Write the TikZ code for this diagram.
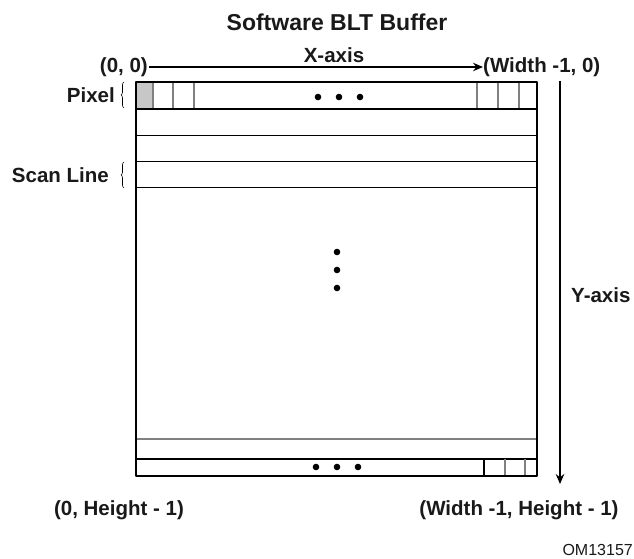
\documentclass[tikz,border=0pt]{standalone}
\usepackage{fontspec}
\setmainfont{Liberation Sans}
\usetikzlibrary{arrows.meta,decorations.pathreplacing}
\begin{document}
\begin{tikzpicture}[x=1pt,y=-1pt,line join=round,>={Stealth[length=10pt,width=8.5pt]},
	lbl/.style={font=\fontsize{20.5}{24}\selectfont\bfseries,text=black!90,inner sep=0pt},
	rowline/.style={line width=1.2pt},
	cellline/.style={line width=1.1pt,black!50},
	brace/.style={decorate,decoration={brace,amplitude=3pt},line width=0.6pt}]
	\useasboundingbox (0,0) rectangle (634,559);
	% labels
	\node[font=\fontsize{23}{27}\selectfont\bfseries,text=black!90] (title) at (337,22) {Software BLT Buffer};
	\node[lbl] (xlab) at (334,55) {X-axis};
	\node[lbl,anchor=east] (orig) at (148,67) {(0, 0)};
	\node[lbl,anchor=west] (xend) at (483,67) {(Width -1, 0)};
	\node[lbl,anchor=east] (pixlab) at (115,95) {Pixel};
	\node[lbl,anchor=east] (scanlab) at (109,175) {Scan Line};
	\node[lbl,anchor=west] (ylab) at (571,295) {Y-axis};
	\node[lbl] (botleft) at (119,510) {(0, Height - 1)};
	\node[lbl] (botright) at (519,510) {(Width -1, Height - 1)};
	\node[font=\fontsize{16}{19}\selectfont,text=black!90,inner sep=0pt,anchor=east] (code) at (633,550) {OM13157};
	% axes
	\draw[->,line width=1.2pt] (orig.east) ++(1,0) -- (xend.west);
	\coordinate (ytop) at (560,81);
	\coordinate (ybot) at (560,484);
	\draw[->,line width=1.2pt] (ytop) -- (ybot);
	% braces
	\draw[brace] (124,108) -- (124,82);
	\draw[brace] (124,188) -- (124,162);
	% buffer
	\fill[black!22] (136,82) rectangle (153,109);
	\foreach \x in {153,173,194,477,498,519}
		\draw[cellline] (\x,82) -- (\x,109);
	\foreach \y in {109,135.7,161.7,187.7,459}
		\draw[rowline] (136,\y) -- (537,\y);
	\draw[cellline,line width=1.4pt] (136,439) -- (537,439);
	\draw[rowline] (484,459) -- (484,476);
	\foreach \x in {505,525}
		\draw[cellline] (\x,459) -- (\x,476);
	\draw[line width=2.6pt] (136,82) rectangle (537,476);
	% dots
	\foreach \x in {318,339,360} \fill (\x,97) circle (3.3pt);
	\foreach \x in {316,337,358} \fill (\x,467) circle (3.3pt);
	\foreach \y in {252,270,288} \fill (337,\y) circle (3.3pt);
\end{tikzpicture}
\end{document}
